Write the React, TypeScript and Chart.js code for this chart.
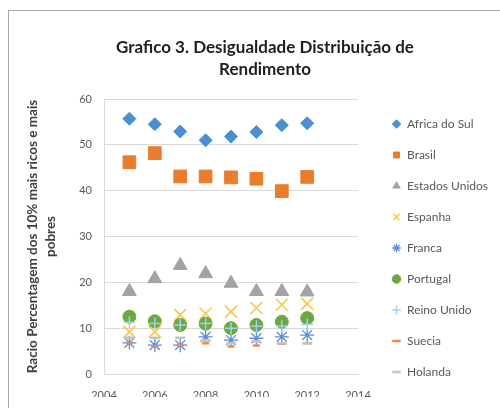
import { useEffect, useRef } from 'react';
import { Chart, registerables } from 'chart.js';

Chart.register(...registerables);

const years = [2005, 2006, 2007, 2008, 2009, 2010, 2011, 2012];
const africaDoSul = [55.7, 54.5, 52.9, 51.0, 51.8, 52.8, 54.3, 54.7];
const brasil = [46.2, 48.2, 43.1, 43.1, 42.9, 42.6, 39.9, 43.0];
const estadosUnidos = [18.0, 20.8, 23.7, 21.9, 19.8, 18.0, 18.0, 17.9];
const espanha = [9.2, 9.2, 12.9, 13.2, 13.6, 14.4, 15.1, 15.3];
const franca = [6.8, 6.3, 6.3, 8.1, 7.4, 7.8, 8.1, 8.5];
const portugal = [12.5, 11.5, 10.7, 11.0, 10.0, 10.7, 11.4, 12.2];
const reinoUnido = [11.3, 11.0, 10.7, 11.0, 10.0, 10.4, 10.5, 10.8];
const suecia = [6.8, 6.0, 6.3, 6.7, 6.0, 6.2, 6.6, 6.7];
const holanda = [7.9, 7.9, 7.9, 7.3, 6.7, 7.1, 6.7, 6.7];

const xTicks = [2004, 2006, 2008, 2010, 2012, 2014];
const yTicks = [0, 10, 20, 30, 40, 50, 60];

const titleLines = ['Grafico 3. Desigualdade Distribuição de', 'Rendimento'];
const yTitleLines = ['Racio Percentagem dos 10% mais ricos e mais', 'pobres'];

const series = [
  { label: 'Africa do Sul', values: africaDoSul, style: 'rectRot', r: 6.5, fill: '#4a8fd2', stroke: '#4a8fd2', bw: 1 },
  { label: 'Brasil', values: brasil, style: 'rect', r: 9, fill: '#ea7c2e', stroke: '#ea7c2e', bw: 1 },
  { label: 'Estados Unidos', values: estadosUnidos, style: 'triangle', r: 8, fill: '#a3a3a3', stroke: '#a3a3a3', bw: 1 },
  { label: 'Espanha', values: espanha, style: 'crossRot', r: 8.5, fill: '#fcc64a', stroke: '#fcc64a', bw: 1.6 },
  { label: 'Franca', values: franca, style: 'star', r: 7, fill: '#5b8fd8', stroke: '#5b8fd8', bw: 1.3 },
  { label: 'Portugal', values: portugal, style: 'circle', r: 6.5, fill: '#6aa843', stroke: '#6aa843', bw: 1 },
  { label: 'Reino Unido', values: reinoUnido, style: 'cross', r: 6, fill: '#a9cdee', stroke: '#a9cdee', bw: 1.5 },
  { label: 'Suecia', values: suecia, style: 'line', r: 3.5, fill: '#f0894a', stroke: '#f0894a', bw: 2.5 },
  { label: 'Holanda', values: holanda, style: 'line', r: 5, fill: '#c4c4c4', stroke: '#c4c4c4', bw: 2.5 },
];

const FONT = 'Lato';

export default function App() {
  const ref = useRef<HTMLCanvasElement | null>(null);

  useEffect(() => {
    if (!ref.current) return;
    const n = series.length;
    const chart = new Chart(ref.current, {
      type: 'scatter',
      data: {
        datasets: series.map((s, i) => ({
          label: s.label,
          data: years.map((x, j) => ({ x, y: s.values[j] })),
          pointStyle: s.style as any,
          pointRadius: s.r,
          pointHoverRadius: s.r,
          backgroundColor: s.fill,
          borderColor: s.stroke,
          borderWidth: s.bw,
          order: n - i,
        })),
      },
      options: {
        animation: false,
        responsive: false,
        devicePixelRatio: 1,
        layout: { padding: { left: 20, right: 10, top: 10, bottom: 11 } },
        plugins: {
          tooltip: { enabled: false },
          title: {
            display: true,
            text: titleLines,
            color: '#1f1f1f',
            font: { family: FONT, size: 17, weight: 'bold', lineHeight: 22 / 17 },
            padding: { top: 27, bottom: 18 },
          },
          legend: {
            display: true,
            position: 'right',
            align: 'end',
            maxWidth: 200,
            labels: {
              usePointStyle: true,
              boxHeight: 6,
              boxWidth: 9,
              padding: 19,
              color: '#595959',
              font: { family: FONT, size: 12 },
              sort: (a: any, b: any) => a.datasetIndex - b.datasetIndex,
            },
          },
        },
        scales: {
          x: {
            type: 'linear',
            min: xTicks[0],
            max: xTicks[xTicks.length - 1],
            afterBuildTicks: (s: any) => {
              s.ticks = xTicks.map((v) => ({ value: v }));
            },
            afterFit: (s: any) => {
              s.height = 23;
            },
            grid: { display: false, drawTicks: false },
            border: { display: true, color: '#d9d9d9', width: 1 },
            ticks: {
              padding: 15,
              color: '#595959',
              font: { family: FONT, size: 11 },
              callback: (v: any) => String(v),
              maxRotation: 0,
              autoSkip: false,
            },
          },
          y: {
            type: 'linear',
            position: 'left',
            min: yTicks[0],
            max: yTicks[yTicks.length - 1],
            afterBuildTicks: (s: any) => {
              s.ticks = yTicks.map((v) => ({ value: v }));
            },
            afterFit: (s: any) => {
              s.width = 84;
            },
            grid: { color: '#d9d9d9', drawTicks: false, lineWidth: 1 },
            border: { display: true, color: '#d9d9d9', width: 1 },
            ticks: {
              padding: 12,
              color: '#595959',
              font: { family: FONT, size: 11 },
              callback: (v: any) => String(v),
            },
            title: {
              display: true,
              text: yTitleLines,
              color: '#404040',
              font: { family: FONT, size: 13.5, weight: 'bold', lineHeight: 18 / 13.5 },
              padding: { top: 4, bottom: 20 },
            },
          },
          gap: {
            type: 'linear',
            position: 'right',
            weight: 1,
            display: true,
            grid: { display: false, drawTicks: false },
            border: { display: false },
            ticks: { display: false },
            afterFit: (s: any) => {
              s.width = 15;
            },
          },
          outer: {
            type: 'linear',
            position: 'right',
            weight: 3000,
            display: true,
            grid: { display: false, drawTicks: false },
            border: { display: false },
            ticks: { display: false },
            afterFit: (s: any) => {
              const lw = s.chart.legend ? s.chart.legend.width : 117;
              s.width = Math.max(0, 137 - lw);
            },
          },
        } as any,
      },
    });
    return () => chart.destroy();
  }, []);

  return (
    <div style={{ position: 'absolute', left: 0, top: 0, width: 500, height: 408, overflow: 'hidden', background: '#fff' }}>
      <div
        style={{
          position: 'absolute',
          left: 8,
          top: 10,
          width: 500,
          height: 410,
          borderLeft: '1px solid #a6a6a6',
          borderTop: '1px solid #a6a6a6',
        }}
      />
      <canvas
        ref={ref}
        width={520}
        height={408}
        style={{ position: 'absolute', left: 0, top: 0, width: 520, height: 408, display: 'block' }}
      />
    </div>
  );
}
